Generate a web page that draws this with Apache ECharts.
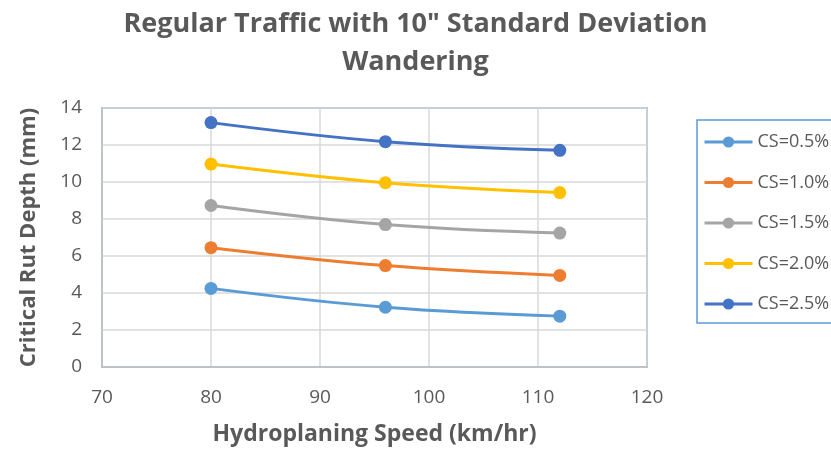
<!DOCTYPE html>
<html><head><meta charset="utf-8">
<script src="https://cdn.jsdelivr.net/npm/echarts@6/dist/echarts.min.js"></script>
<style>html,body{margin:0;padding:0;background:#fff}#c{width:831px;height:451px}</style>
</head><body><div id="c"></div>
<script>
const speeds = [80, 96, 112];
const seriesNames = ["CS=0.5%", "CS=1.0%", "CS=1.5%", "CS=2.0%", "CS=2.5%"];
const cs05 = [4.25, 3.23, 2.75];
const cs10 = [6.45, 5.48, 4.95];
const cs15 = [8.73, 7.70, 7.24];
const cs20 = [10.97, 9.96, 9.43];
const cs25 = [13.21, 12.18, 11.71];
const allValues = [cs05, cs10, cs15, cs20, cs25];
const colors = ["#5B9BD5", "#ED7D31", "#A5A5A5", "#FFC000", "#4472C4"];

const font = "'Open Sans', 'Liberation Sans', sans-serif";
const chart = echarts.init(document.getElementById('c'), null, {renderer: 'canvas'});
chart.setOption({
  animation: false,
  title: {
    text: 'Regular Traffic with 10" Standard Deviation\nWandering',
    left: 'center', top: 0,
    textStyle: {fontFamily: font, fontWeight: 'bold', fontSize: 27, lineHeight: 38, color: '#595959'}
  },
  grid: {left: 102, right: 184, top: 108, bottom: 83, show: true, borderColor: '#5B9BD5', borderWidth: 1.5, backgroundColor: 'transparent'},
  legend: {
    orient: 'vertical', left: 697, top: 120,
    data: seriesNames.map((n, i) => ({name: n, lineStyle: {width: 3, color: colors[i]}})),
    itemWidth: 48, itemHeight: 14, itemGap: 22.5,
    padding: [13, 60, 10, 6],
    borderColor: '#5B9BD5', borderWidth: 1.5,
    lineStyle: {width: 3},
    textStyle: {fontFamily: font, fontSize: 18, color: '#595959', lineHeight: 18}
  },
  xAxis: {
    type: 'value', min: 70, max: 120, interval: 10,
    name: 'Hydroplaning Speed (km/hr)', nameLocation: 'middle', nameGap: 56,
    nameTextStyle: {fontFamily: font, fontWeight: 'bold', fontSize: 23, color: '#595959'},
    axisLine: {show: true, lineStyle: {color: '#BFBFBF', width: 1.5}},
    axisTick: {show: false},
    axisLabel: {fontFamily: font, fontSize: 19, color: '#595959', margin: 21},
    splitLine: {show: true, lineStyle: {color: '#D9D9D9', width: 1.5}}
  },
  yAxis: {
    type: 'value', min: 0, max: 14, interval: 2,
    name: 'Critical Rut Depth (mm)', nameLocation: 'middle', nameGap: 62,
    nameTextStyle: {fontFamily: font, fontWeight: 'bold', fontSize: 22, color: '#595959'},
    axisLine: {show: true, lineStyle: {color: '#BFBFBF', width: 1.5}},
    axisTick: {show: false},
    axisLabel: {fontFamily: font, fontSize: 19, color: '#595959', margin: 20},
    splitLine: {show: true, lineStyle: {color: '#D9D9D9', width: 1.5}}
  },
  series: seriesNames.map((n, i) => ({
    name: n, type: 'line', smooth: 0.4,
    data: speeds.map((s, j) => [s, allValues[i][j]]),
    symbol: 'circle', symbolSize: 13,
    lineStyle: {color: colors[i], width: 3},
    itemStyle: {color: colors[i]}
  }))
});
</script></body></html>
